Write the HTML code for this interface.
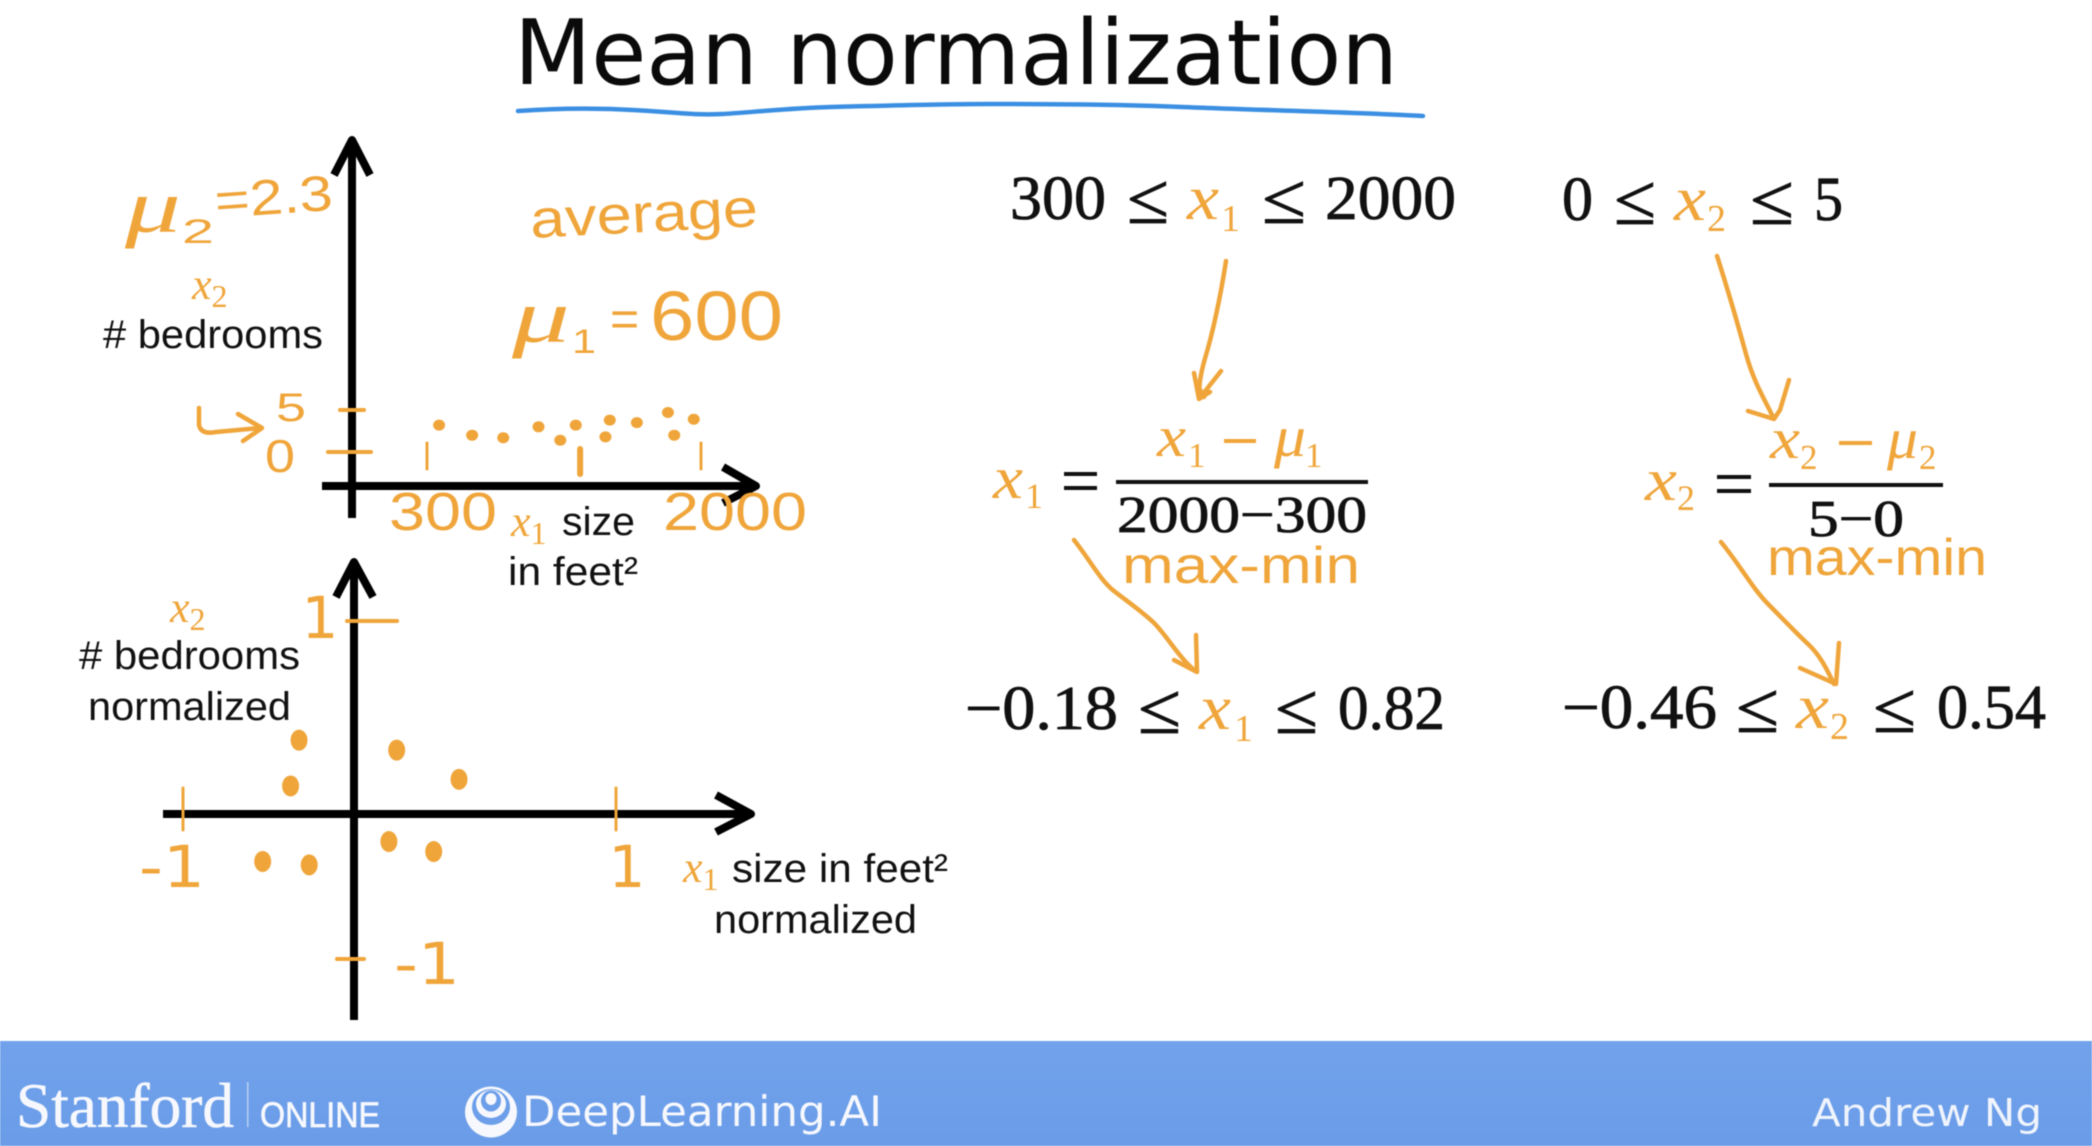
<!DOCTYPE html>
<html lang="en">
<head>
<meta charset="utf-8">
<title>Mean normalization</title>
<style>
html,body{margin:0;padding:0;background:#fff;width:2092px;height:1146px;overflow:hidden}
svg{display:block;filter:blur(0.6px)}
.hw{font-family:"Liberation Sans",sans-serif;fill:#efa53a}
.hd{font-family:"DejaVu Sans",sans-serif;fill:#efa53a}
.hm{font-family:"Liberation Serif",serif;font-style:italic;fill:#efa53a}
.lb{font-family:"Liberation Sans",sans-serif;fill:#111;font-size:40px}
.m{font-family:"Liberation Serif",serif;fill:#111;stroke:#111;stroke-width:.8px}
.v{font-family:"Liberation Serif",serif;font-style:italic;fill:#efa53a}
.s{font-family:"Liberation Serif",serif;fill:#efa53a}
.ink{fill:none;stroke:#efa53a;stroke-width:4.5;stroke-linecap:round;stroke-linejoin:round}
.axis{fill:none;stroke:#000;stroke-width:8;stroke-linejoin:round}
</style>
</head>
<body>
<svg id="slide" xmlns="http://www.w3.org/2000/svg" width="2092" height="1146" viewBox="0 0 2092 1146">
<defs>
<linearGradient id="band" x1="0" y1="0" x2="0" y2="1"><stop offset="0" stop-color="#72a2eb"/><stop offset="1" stop-color="#6a9ce8"/></linearGradient>
</defs>

<text x="514" y="84" font-family="'DejaVu Sans',sans-serif" font-size="90" fill="#0a0a0a" textLength="884" lengthAdjust="spacingAndGlyphs">Mean normalization</text>
<path d="M518 111C560 108 608 108 650 111S700 115 722 114S790 108 831 107S940 104 990 104S1110 104 1182 107S1350 112 1423 116" fill="none" stroke="#3b8fe2" stroke-width="4.5" stroke-linecap="round"/>

<!-- top plot -->
<g id="plot1">
<path class="axis" d="M352 518V140M334 175L352 140L370 175"/>
<path class="axis" d="M322 486H756M723 467L756 486L723 503"/>
<text class="lb" x="103" y="348" textLength="220" lengthAdjust="spacingAndGlyphs"># bedrooms</text>
<text class="v" x="192" y="299" font-size="44">x<tspan class="s" font-size="32" dy="8" style="font-style:normal">2</tspan></text>
<text class="v" x="511" y="536" font-size="44">x<tspan class="s" font-size="32" dy="8" style="font-style:normal">1</tspan></text>
<text class="lb" x="562" y="535" textLength="73" lengthAdjust="spacingAndGlyphs">size</text>
<text class="lb" x="508" y="585" textLength="130" lengthAdjust="spacingAndGlyphs">in feet²</text>

<text class="hm" x="125" y="232" font-size="76" textLength="56" lengthAdjust="spacingAndGlyphs">μ</text>
<text class="hw" x="182" y="243" font-size="34" textLength="32" lengthAdjust="spacingAndGlyphs">2</text>
<text class="hw" x="216" y="218" font-size="50" textLength="118" lengthAdjust="spacingAndGlyphs" transform="rotate(-4 216 218)">=2.3</text>
<text class="hw" x="531" y="238" font-size="54" textLength="228" lengthAdjust="spacingAndGlyphs" transform="rotate(-3 531 238)">average</text>
<text class="hm" x="512" y="342" font-size="76" textLength="58" lengthAdjust="spacingAndGlyphs">μ</text>
<text class="hw" x="572" y="353" font-size="34" textLength="24" lengthAdjust="spacingAndGlyphs">1</text>
<text class="hw" x="610" y="336" font-size="50">=</text>
<text class="hw" x="650" y="340" font-size="70" textLength="133" lengthAdjust="spacingAndGlyphs">600</text>
<path class="ink" d="M199 408V425Q201 435 216 432L260 428M238 414L262 428L243 441"/>
</g>

<!-- bottom plot -->
<g id="plot2">
<path class="axis" d="M354 1020V562M336 597L354 562L373 597"/>
<path class="axis" d="M163 814H751M716 795L751 814L716 832"/>
<text class="v" x="170" y="622" font-size="44">x<tspan class="s" font-size="32" dy="8" style="font-style:normal">2</tspan></text>
<text class="lb" x="79" y="669" textLength="221" lengthAdjust="spacingAndGlyphs"># bedrooms</text>
<text class="lb" x="88" y="720" textLength="203" lengthAdjust="spacingAndGlyphs">normalized</text>
<text class="v" x="683" y="882" font-size="44">x<tspan class="s" font-size="32" dy="8" style="font-style:normal">1</tspan></text>
<text class="lb" x="732" y="882" textLength="216" lengthAdjust="spacingAndGlyphs">size in feet²</text>
<text class="lb" x="714" y="933" textLength="203" lengthAdjust="spacingAndGlyphs">normalized</text>
</g>

<!-- feature 1 equations -->
<g>
<text class="m" x="1010" y="219" font-size="62" textLength="96" lengthAdjust="spacingAndGlyphs">300</text>
<text class="m" x="1127" y="223" font-size="72" textLength="42" lengthAdjust="spacingAndGlyphs">≤</text>
<text class="v" x="1187" y="219" font-size="64" textLength="32" lengthAdjust="spacingAndGlyphs">x</text>
<text class="s" x="1221" y="231" font-size="38">1</text>
<text class="m" x="1262" y="223" font-size="72" textLength="44" lengthAdjust="spacingAndGlyphs">≤</text>
<text class="m" x="1325" y="219" font-size="62" textLength="131" lengthAdjust="spacingAndGlyphs">2000</text>

<text class="v" x="993" y="498" font-size="60" textLength="30" lengthAdjust="spacingAndGlyphs">x</text>
<text class="s" x="1025" y="508" font-size="36">1</text>
<rect x="1064" y="472" width="33" height="4" fill="#111"/>
<rect x="1064" y="486" width="33" height="4" fill="#111"/>
<text class="v" x="1157" y="456" font-size="58" textLength="29" lengthAdjust="spacingAndGlyphs">x</text>
<text class="s" x="1188" y="467" font-size="35">1</text>
<rect x="1224" y="439" width="32" height="4" fill="#efa53a"/>
<text class="v" x="1274" y="456" font-size="58" textLength="32" lengthAdjust="spacingAndGlyphs">μ</text>
<text class="s" x="1305" y="467" font-size="35">1</text>
<rect x="1116" y="480" width="252" height="4" fill="#111"/>
<text class="m" x="1117" y="532" font-size="52" textLength="250" lengthAdjust="spacingAndGlyphs">2000−300</text>
<text class="hw" x="1122" y="583" font-size="52" textLength="238" lengthAdjust="spacingAndGlyphs">max-min</text>

<text class="m" x="965" y="729" font-size="62" textLength="153" lengthAdjust="spacingAndGlyphs">−0.18</text>
<text class="m" x="1138" y="733" font-size="72" textLength="43" lengthAdjust="spacingAndGlyphs">≤</text>
<text class="v" x="1199" y="729" font-size="64" textLength="32" lengthAdjust="spacingAndGlyphs">x</text>
<text class="s" x="1234" y="741" font-size="38">1</text>
<text class="m" x="1275" y="733" font-size="72" textLength="43" lengthAdjust="spacingAndGlyphs">≤</text>
<text class="m" x="1338" y="729" font-size="62" textLength="107" lengthAdjust="spacingAndGlyphs">0.82</text>

<path class="ink" d="M1226 261C1220 300 1212 335 1206 355S1199 385 1199 399M1194 373L1199 399L1221 371M1199 399L1210 392M1204 397L1196 382"/>
<path class="ink" d="M1074 540C1090 560 1100 580 1114 591S1140 610 1153 622S1180 660 1197 672M1196 635L1197 672L1174 660"/>
</g>

<!-- feature 2 equations -->
<g>
<text class="m" x="1562" y="220" font-size="62" textLength="31" lengthAdjust="spacingAndGlyphs">0</text>
<text class="m" x="1614" y="224" font-size="72" textLength="42" lengthAdjust="spacingAndGlyphs">≤</text>
<text class="v" x="1674" y="220" font-size="64" textLength="32" lengthAdjust="spacingAndGlyphs">x</text>
<text class="s" x="1707" y="231" font-size="38">2</text>
<text class="m" x="1750" y="224" font-size="72" textLength="44" lengthAdjust="spacingAndGlyphs">≤</text>
<text class="m" x="1814" y="220" font-size="62" textLength="29" lengthAdjust="spacingAndGlyphs">5</text>

<text class="v" x="1645" y="500" font-size="60" textLength="32" lengthAdjust="spacingAndGlyphs">x</text>
<text class="s" x="1677" y="510" font-size="36">2</text>
<rect x="1717" y="475" width="34" height="4" fill="#111"/>
<rect x="1717" y="489" width="34" height="4" fill="#111"/>
<text class="v" x="1770" y="458" font-size="58" textLength="30" lengthAdjust="spacingAndGlyphs">x</text>
<text class="s" x="1800" y="469" font-size="35">2</text>
<rect x="1839" y="441" width="33" height="4" fill="#efa53a"/>
<text class="v" x="1887" y="458" font-size="58" textLength="31" lengthAdjust="spacingAndGlyphs">μ</text>
<text class="s" x="1919" y="469" font-size="35">2</text>
<rect x="1769" y="483" width="174" height="4" fill="#111"/>
<text class="m" x="1808" y="536" font-size="52" textLength="96" lengthAdjust="spacingAndGlyphs">5−0</text>
<text class="hw" x="1767" y="575" font-size="52" textLength="220" lengthAdjust="spacingAndGlyphs">max-min</text>

<text class="m" x="1562" y="728" font-size="62" textLength="155" lengthAdjust="spacingAndGlyphs">−0.46</text>
<text class="m" x="1736" y="732" font-size="72" textLength="43" lengthAdjust="spacingAndGlyphs">≤</text>
<text class="v" x="1796" y="728" font-size="64" textLength="33" lengthAdjust="spacingAndGlyphs">x</text>
<text class="s" x="1830" y="739" font-size="38">2</text>
<text class="m" x="1873" y="732" font-size="72" textLength="43" lengthAdjust="spacingAndGlyphs">≤</text>
<text class="m" x="1937" y="728" font-size="62" textLength="109" lengthAdjust="spacingAndGlyphs">0.54</text>

<path class="ink" d="M1717 256C1728 290 1738 325 1746 354S1765 400 1774 419M1789 380L1780 410L1774 419L1748 411"/>
<path class="ink" d="M1721 542C1740 565 1752 588 1769 605S1795 632 1808 644S1828 672 1834 684M1839 643L1836 684L1800 668"/>
</g>

<!-- footer band -->
<g>
<rect x="0" y="1041" width="2092" height="105" fill="url(#band)"/>
<text x="16" y="1127" font-family="'Liberation Serif',serif" font-size="63" fill="#f6f8fd" stroke="#f6f8fd" stroke-width=".6" textLength="218" lengthAdjust="spacingAndGlyphs">Stanford</text>
<rect x="247" y="1082" width="1.5" height="45" fill="#b9cff3"/>
<text x="260" y="1127" font-family="'Liberation Sans',sans-serif" font-size="35" fill="#f6f8fd" stroke="#f6f8fd" stroke-width=".7" textLength="120" lengthAdjust="spacingAndGlyphs">ONLINE</text>
<g>
<ellipse cx="491" cy="1112" rx="26" ry="25.5" fill="#f6f8fd"/>
<ellipse cx="491" cy="1107" rx="19" ry="18" fill="#6c9ee9"/>
<ellipse cx="491" cy="1104" rx="15" ry="14" fill="#f6f8fd"/>
<ellipse cx="491" cy="1101" rx="10" ry="10.5" fill="#6c9ee9"/>
<ellipse cx="491" cy="1099" rx="5.5" ry="6" fill="#f6f8fd"/>
</g>
<text x="522" y="1126" font-family="'DejaVu Sans',sans-serif" font-size="42" fill="#f6f8fd" textLength="360" lengthAdjust="spacingAndGlyphs">DeepLearning.AI</text>
<text x="1812" y="1126" font-family="'DejaVu Sans',sans-serif" font-size="38" fill="#f0f4fc" textLength="230" lengthAdjust="spacingAndGlyphs">Andrew Ng</text>
</g>
</svg>

<script>
const plot1SizeTicks = [300, 2000];
const plot1SizeTickLabels = ["300", "2000"];
const plot1MeanTick = [1250];
const plot1BedroomTicks = [5, 0];
const plot1BedroomTickLabels = ["5", "0"];
const plot1Sizes = [375, 580, 773, 992, 1127, 1223, 1407, 1434, 1602, 1795, 1834, 1955];
const plot1Bedrooms = [3.2, 2.0, 1.7, 3.0, 1.4, 3.2, 1.8, 3.8, 3.5, 4.7, 2.0, 3.9];

const plot2XTicks = [-1, 1];
const plot2XTickLabels = ["-1", "1"];
const plot2YTicks = [1, -1];
const plot2YTickLabels = ["1", "-1"];
const plot2Sizes = [-0.464, -0.503, -0.013, 0.275, -0.049, 0.158, -0.632, -0.417];
const plot2Bedrooms = [0.295, 0.024, 0.236, 0.063, -0.305, -0.364, -0.423, -0.443];

const NS = "http://www.w3.org/2000/svg";
const plot1 = document.getElementById("plot1");
const plot2 = document.getElementById("plot2");
const sx1 = function (v) { return 427 + (v - 300) / 1700 * 274; };
const sy1 = function (v) { return 452 - v / 5 * 42; };
const sx2 = function (v) { return 399.5 + v * 216.5; };
const sy2 = function (v) { return 790 - v * 169; };

function addLine(parent, x1, y1, x2, y2, width) {
  const el = document.createElementNS(NS, "line");
  el.setAttribute("x1", x1);
  el.setAttribute("y1", y1);
  el.setAttribute("x2", x2);
  el.setAttribute("y2", y2);
  el.setAttribute("stroke", "#efa53a");
  el.setAttribute("stroke-width", width);
  el.setAttribute("stroke-linecap", "round");
  parent.appendChild(el);
  return el;
}
function addLabel(parent, str, x, y, cls, size, len) {
  const el = document.createElementNS(NS, "text");
  el.setAttribute("x", x);
  el.setAttribute("y", y);
  el.setAttribute("class", cls);
  el.setAttribute("font-size", size);
  el.setAttribute("text-anchor", "middle");
  if (len) {
    el.setAttribute("textLength", len);
    el.setAttribute("lengthAdjust", "spacingAndGlyphs");
  }
  el.textContent = str;
  parent.appendChild(el);
  return el;
}
function addDot(parent, x, y, rx, ry) {
  const el = document.createElementNS(NS, "ellipse");
  el.setAttribute("cx", x);
  el.setAttribute("cy", y);
  el.setAttribute("rx", rx);
  el.setAttribute("ry", ry);
  el.setAttribute("fill", "#efa53a");
  parent.appendChild(el);
  return el;
}

plot1SizeTicks.forEach(function (v, i) {
  const tick = addLine(plot1, sx1(v), 443, sx1(v), 469, 3);
  
  
  const str = plot1SizeTickLabels[i];
  const label = addLabel(plot1, str, sx1(v) - 38 + str.length * 18, 530, "hw", 54, str.length * 36);
  
  
});
plot1MeanTick.forEach(function (v) {
  const tick = addLine(plot1, sx1(v), 449, sx1(v), 474, 6);
  
  
});
plot1BedroomTicks.forEach(function (v, i) {
  const tick = addLine(plot1, v === 0 ? 328 : 340, sy1(v), v === 0 ? 371 : 364, sy1(v), 4);
  
  
  const label = addLabel(plot1, plot1BedroomTickLabels[i], v === 0 ? 280 : 291, sy1(v) + (v === 0 ? 20 : 11), "hw", v === 0 ? 46 : 40, 30);
  
  
});
plot1Sizes.forEach(function (v, i) {
  const dot = addDot(plot1, sx1(v), sy1(plot1Bedrooms[i]), 6, 5.5);
  
  
});

plot2XTicks.forEach(function (v, i) {
  const tick = addLine(plot2, sx2(v), 788, sx2(v), 830, 3);
  
  
  const str = plot2XTickLabels[i];
  const label = addLabel(plot2, str, sx2(v) + (v < 0 ? -11 : 11), 887, "hd", 58, str.length > 1 ? 66 : 0);
  
  
});
plot2YTicks.forEach(function (v, i) {
  const tick = addLine(plot2, v > 0 ? 347 : 337, sy2(v), v > 0 ? 397 : 364, sy2(v), 4);
  
  
  const str = plot2YTickLabels[i];
  const label = addLabel(plot2, str, v > 0 ? 320 : 427, sy2(v) + (v > 0 ? 17 : 25), "hd", 58, str.length > 1 ? 66 : 0);
  
  
});
plot2Sizes.forEach(function (v, i) {
  const dot = addDot(plot2, sx2(v), sy2(plot2Bedrooms[i]), 8.5, 10.5);
  
  
});
</script>
</body>
</html>
